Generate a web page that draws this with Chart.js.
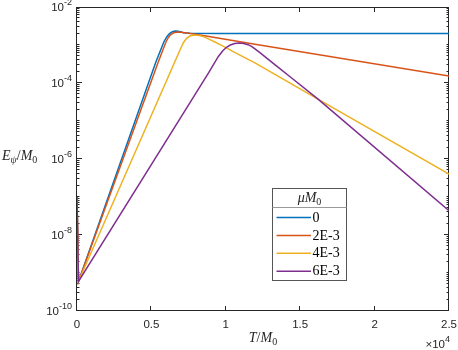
<!DOCTYPE html>
<html>
<head>
<meta charset="utf-8">
<script src="https://cdn.jsdelivr.net/npm/chart.js@4.4.1/dist/chart.umd.min.js"></script>
<style>
  html, body { margin: 0; padding: 0; background: #fff; }
</style>
</head>
<body>
<canvas id="myChart" width="458" height="350"></canvas>
<script>
// series (mu*M0) and their colours
const seriesLabels = ["0", "2E-3", "4E-3", "6E-3"];
const seriesColors = ["#0072BD", "#D95319", "#EDB120", "#7E2F8E"];

// T/M0 samples and E_psi/M0 values
const timeMu0 = [0, 100, 5300, 5700, 5850, 6030, 6170, 6300, 6450, 6600, 6800, 7000, 7150, 7600, 9600, 25000];
const energyMu0 = [1e-7, 6e-10, 3.57e-4, 8.85e-4, 1.23e-3, 1.63e-3, 1.91e-3, 2.11e-3, 2.26e-3, 2.33e-3, 2.29e-3, 2.19e-3, 2.11e-3, 2.04e-3, 2.0e-3, 2.02e-3];

const timeMu2 = [0, 100, 5460, 5800, 5980, 6140, 6300, 6470, 6640, 6810, 7000, 7370, 8270, 11960, 25000];
const energyMu2 = [1e-7, 6e-10, 3.57e-4, 8.0e-4, 1.2e-3, 1.58e-3, 1.88e-3, 2.07e-3, 2.16e-3, 2.2e-3, 2.18e-3, 2.07e-3, 1.84e-3, 1.05e-3, 1.53e-4];

const timeMu4 = [0, 100, 6590, 6920, 7150, 7350, 7590, 7800, 7930, 8200, 8490, 8900, 9270, 9650, 10010, 10620, 11960, 16220, 25000];
const energyMu4 = [1e-7, 6e-10, 3.72e-4, 7.41e-4, 1.15e-3, 1.48e-3, 1.72e-3, 1.8e-3, 1.82e-3, 1.78e-3, 1.66e-3, 1.41e-3, 1.2e-3, 1.01e-3, 8.5e-4, 6.3e-4, 3.39e-4, 3.72e-5, 4.03e-7];

const timeMu6 = [0, 100, 8830, 9500, 9800, 10050, 10300, 10600, 10900, 11200, 11500, 11750, 11960, 12250, 12520, 13420, 14320, 16220, 25000];
const energyMu6 = [1e-7, 6e-10, 1.83e-4, 5.0e-4, 7.08e-4, 8.71e-4, 1.0e-3, 1.1e-3, 1.13e-3, 1.1e-3, 1.02e-3, 9.12e-4, 7.94e-4, 6.46e-4, 5.32e-4, 2.79e-4, 1.46e-4, 3.72e-5, 4.37e-8];

// ticks
const xTickValues = [0, 5000, 10000, 15000, 20000, 25000];
const xTickLabels = ["0", "0.5", "1", "1.5", "2", "2.5"];
const yTickExponents = [-2, -4, -6, -8, -10];

const times = [timeMu0, timeMu2, timeMu4, timeMu6];
const energies = [energyMu0, energyMu2, energyMu4, energyMu6];

const axisColor = "#262626";
const tickFont = '11.5px "Liberation Sans", Arial, sans-serif';
const supFont = '9px "Liberation Sans", Arial, sans-serif';
const mathFont = 'italic 14px "Liberation Serif", serif';
const romanFont = '14px "Liberation Serif", serif';
const subFont = '10px "Liberation Serif", serif';

// draws a run of text pieces (for sub/superscripts)
function drawPieces(ctx, pieces, x, y, align) {
  let total = 0;
  pieces.forEach((p) => {
    ctx.font = p.font;
    p.w = ctx.measureText(p.t).width;
    total += p.w;
  });
  let cx = align === "center" ? x - total / 2 : align === "right" ? x - total : x;
  ctx.textAlign = "left";
  pieces.forEach((p) => {
    ctx.font = p.font;
    ctx.fillText(p.t, cx, y + (p.dy || 0));
    cx += p.w;
  });
}

const frame = {
  id: "frame",
  beforeDatasetsDraw(chart) {
    const { ctx, chartArea: a, scales } = chart;
    const x = scales.x, y = scales.y;
    ctx.save();
    ctx.strokeStyle = axisColor;
    ctx.lineWidth = 1;
    ctx.strokeRect(a.left - 0.5, a.top + 0.5, a.right - a.left, a.bottom - a.top - 1);

    ctx.beginPath();
    xTickValues.forEach((v) => {
      const px = Math.round(x.getPixelForValue(v)) - 0.5;
      ctx.moveTo(px, a.bottom); ctx.lineTo(px, a.bottom - 5);
      ctx.moveTo(px, a.top); ctx.lineTo(px, a.top + 5);
    });
    for (let e = -10; e < -2; e++) {
      for (let m = 1; m < 10; m++) {
        const v = m * Math.pow(10, e);
        const major = m === 1 && yTickExponents.includes(e);
        const len = major ? 5 : 2.5;
        const py = Math.round(y.getPixelForValue(v)) - 0.5;
        ctx.moveTo(a.left, py); ctx.lineTo(a.left + len, py);
        ctx.moveTo(a.right, py); ctx.lineTo(a.right - len, py);
      }
    }
    ctx.stroke();

    // tick labels
    ctx.fillStyle = axisColor;
    ctx.textBaseline = "middle";
    ctx.textAlign = "center";
    ctx.font = tickFont;
    xTickValues.forEach((v, i) => {
      ctx.fillText(xTickLabels[i], x.getPixelForValue(v), 325);
    });
    yTickExponents.forEach((e) => {
      const py = y.getPixelForValue(Math.pow(10, e));
      drawPieces(ctx, [
        { t: "10", font: tickFont },
        { t: String(e), font: supFont, dy: -5 }
      ], a.left - 5, py + 0.5, "right");
    });

    // axis titles
    ctx.textBaseline = "alphabetic";
    drawPieces(ctx, [
      { t: "E", font: mathFont },
      { t: "\u03c8", font: 'italic 10px "Liberation Serif", serif', dy: 3 },
      { t: "/", font: romanFont },
      { t: "M", font: mathFont },
      { t: "0", font: subFont, dy: 3 }
    ], 2, 160, "left");
    drawPieces(ctx, [
      { t: "T", font: mathFont },
      { t: "/", font: romanFont },
      { t: "M", font: mathFont },
      { t: "0", font: subFont, dy: 3 }
    ], (a.left + a.right) / 2, 342, "center");
    drawPieces(ctx, [
      { t: "\u00d710", font: tickFont },
      { t: "4", font: supFont, dy: -6 }
    ], a.right + 1, 348, "right");
    ctx.restore();
  },
  afterDraw(chart) {
    const ctx = chart.ctx;
    const box = { left: 272.5, top: 188.5, right: 346.5, bottom: 280.5 };
    ctx.save();
    ctx.fillStyle = "#fff";
    ctx.fillRect(box.left, box.top, box.right - box.left, box.bottom - box.top);
    ctx.strokeStyle = "#555";
    ctx.lineWidth = 1;
    ctx.strokeRect(box.left, box.top, box.right - box.left, box.bottom - box.top);
    ctx.strokeStyle = "#9a9a9a";
    ctx.beginPath();
    ctx.moveTo(box.left, 207.5); ctx.lineTo(box.right, 207.5);
    ctx.stroke();

    ctx.fillStyle = axisColor;
    ctx.textBaseline = "alphabetic";
    drawPieces(ctx, [
      { t: "\u03bcM", font: mathFont },
      { t: "0", font: subFont, dy: 3 }
    ], 309.5, 202, "center");

    chart.data.datasets.forEach((ds, i) => {
      const ry = 217.5 + i * 17.9;
      ctx.strokeStyle = ds.borderColor;
      ctx.lineWidth = 1.5;
      ctx.beginPath();
      ctx.moveTo(276.5, ry); ctx.lineTo(311, ry);
      ctx.stroke();
      ctx.fillStyle = "#000";
      ctx.textBaseline = "middle";
      ctx.textAlign = "left";
      ctx.font = romanFont;
      ctx.fillText(ds.label, 312.5, ry + 0.5);
    });
    ctx.restore();
  }
};

const ctx = document.getElementById("myChart");
const myChart = new Chart(ctx, {
  type: "line",
  data: {
    datasets: seriesLabels.map((label, i) => ({
      label: label,
      data: times[i].map((t, j) => ({ x: t, y: energies[i][j] })),
      borderColor: seriesColors[i],
      borderWidth: 1.5,
      pointRadius: 0,
      fill: false,
      tension: 0,
      order: 3 - i,
    })),
  },
  options: {
    responsive: false,
    animation: false,
    devicePixelRatio: 1,
    layout: { padding: { left: 0, right: 9, top: 7, bottom: 0 } },
    plugins: { legend: { display: false }, tooltip: { enabled: false } },
    scales: {
      x: {
        type: "linear", min: 0, max: 25000,
        grid: { display: false }, border: { display: false },
        ticks: { display: false },
        afterFit: (s) => { s.height = 39; },
      },
      y: {
        type: "logarithmic", min: 1e-10, max: 1e-2,
        grid: { display: false }, border: { display: false },
        ticks: { display: false },
        afterFit: (s) => { s.width = 77; },
      },
    },
  },
  plugins: [frame],
});
</script>
</body>
</html>
